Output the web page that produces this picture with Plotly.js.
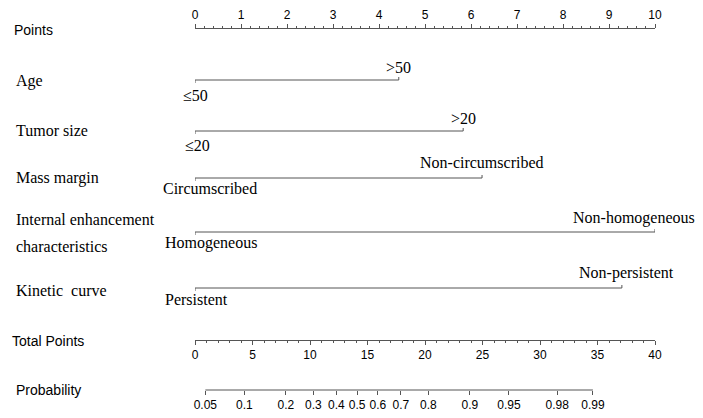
<!DOCTYPE html>
<html>
<head>
<meta charset="utf-8">
<script src="https://cdn.plot.ly/plotly-3.0.1.min.js"></script>
<style>
  html, body { margin: 0; padding: 0; background: #fff; }
  #chart { width: 703px; height: 418px; }
</style>
</head>
<body>
<div id="chart"></div>
<script>
// nomogram rows (points scale 0-10)
const varNames = ['Age', 'Tumor size', 'Mass margin', 'Internal enhancement', 'Kinetic  curve'];
const lowLevels = ['≤50', '≤20', 'Circumscribed', 'Homogeneous', 'Persistent'];
const highLevels = ['>50', '>20', 'Non-circumscribed', 'Non-homogeneous', 'Non-persistent'];
const highPoints = [4.43, 5.83, 6.24, 10, 9.28];

// total points range
const totalRange = [0, 40];

// probability scale, read against total points
const probLabels = ['0.05', '0.1', '0.2', '0.3', '0.4', '0.5', '0.6', '0.7', '0.8', '0.9', '0.95', '0.98', '0.99'];
const probAt = [0.9, 4.3, 7.9, 10.3, 12.3, 14.1, 15.9, 17.9, 20.3, 23.9, 27.3, 31.5, 34.6];

// layout helpers (pixel rows, plot area 195..655)
const W = 703, H = 418, L = 195, R = 655;
const rowY = [80, 131, 178, 232, 288];
const highDy = [-13, -13, -16, -14, -15];
const lowDy = [15, 14, 10, 11, 11];
const highDx = [0, 0, 0, -21, 5];
const lowDx = [0, 2, 15, 16, 1];
const yPoints = 28, yTotal = 340, yProb = 390;
const px = v => (v - L) / (R - L);
const pos = y => 1 - y / H;

const serif = 'Liberation Serif, Times New Roman, serif';
const sans = 'Liberation Sans, Arial, sans-serif';
const ink = '#000';
const lineCol = '#555';

const traces = [];
highPoints.forEach((hp, i) => {
  const y = rowY[i];
  traces.push({
    x: [0, 0, hp, hp],
    y: [y + 3, y, y, y - 3],
    type: 'scatter', mode: 'lines',
    line: {color: lineCol, width: 1},
    hoverinfo: 'skip', showlegend: false
  });
});
// keeps the total points axis alive
traces.push({
  x: totalRange, y: [yTotal, yTotal],
  xaxis: 'x2', yaxis: 'y',
  type: 'scatter', mode: 'markers', opacity: 0,
  hoverinfo: 'skip', showlegend: false
});
// probability axis line
traces.push({
  x: [probAt[0], probAt[probAt.length - 1]],
  y: [yProb, yProb],
  xaxis: 'x3', yaxis: 'y',
  type: 'scatter', mode: 'lines',
  line: {color: lineCol, width: 1},
  hoverinfo: 'skip', showlegend: false
});

const annotations = [];
function addText(text, x, y, xref, opts) {
  annotations.push(Object.assign({
    text: text, x: x, y: y, xref: xref, yref: 'y',
    showarrow: false, yanchor: 'middle', xanchor: 'center',
    font: {family: serif, size: 16, color: ink}
  }, opts || {}));
}

// left labels
const sansFont = {family: sans, size: 14, color: ink};
addText('Points', px(12), 30, 'paper', {xanchor: 'left', font: sansFont});
addText('Total Points', px(10), 341, 'paper', {xanchor: 'left', font: sansFont});
addText('Probability', px(14), 390, 'paper', {xanchor: 'left', font: sansFont});
const nameY = [81, 130, 178, 219, 290];
varNames.forEach((n, i) => addText(n, px(14), nameY[i], 'paper', {xanchor: 'left'}));
addText('characteristics', px(14), 246, 'paper', {xanchor: 'left'});

// level labels
highPoints.forEach((hp, i) => {
  addText(highLevels[i], hp, rowY[i] + highDy[i], 'x', {xshift: highDx[i]});
  addText(lowLevels[i], 0, rowY[i] + lowDy[i], 'x', {xshift: lowDx[i]});
});

const axisBase = {
  showgrid: false, zeroline: false, showline: true,
  linecolor: lineCol, linewidth: 1,
  ticks: 'outside', tickcolor: lineCol, tickwidth: 1, ticklen: 4,
  tickfont: {family: sans, size: 12, color: ink},
  fixedrange: true
};

Plotly.newPlot('chart', traces, {
  width: W, height: H,
  margin: {l: L, r: W - R, t: 0, b: 0},
  paper_bgcolor: '#ffffff', plot_bgcolor: '#ffffff',
  showlegend: false,
  xaxis: Object.assign({}, axisBase, {
    range: [0, 10], side: 'top', anchor: 'free', position: pos(yPoints),
    tick0: 0, dtick: 1,
    minor: {dtick: 0.2, ticklen: 2, ticks: 'outside', tickcolor: lineCol, showgrid: false}
  }),
  xaxis2: Object.assign({}, axisBase, {
    range: totalRange, overlaying: 'x', side: 'bottom', anchor: 'free', position: pos(yTotal),
    tick0: 0, dtick: 5,
    minor: {dtick: 1, ticklen: 2, ticks: 'outside', tickcolor: lineCol, showgrid: false}
  }),
  xaxis3: Object.assign({}, axisBase, {
    range: totalRange, overlaying: 'x', side: 'bottom', anchor: 'free', position: pos(yProb),
    showline: false, tickmode: 'array', tickvals: probAt, ticktext: probLabels
  }),
  yaxis: {range: [H, 0], visible: false, fixedrange: true},
  annotations: annotations
}, {displayModeBar: false, staticPlot: true});
</script>
</body>
</html>
